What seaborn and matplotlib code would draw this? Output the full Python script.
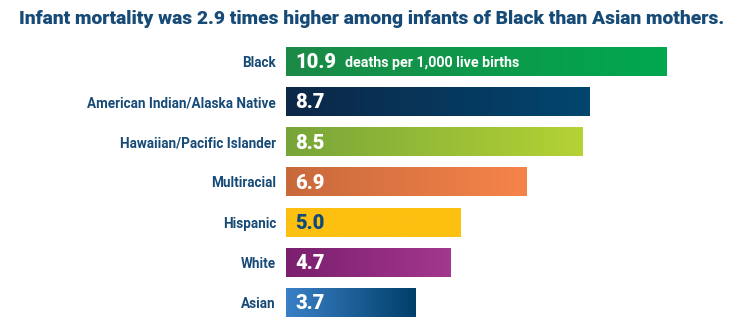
import numpy as np
import pandas as pd
import matplotlib
matplotlib.use("Agg")
import matplotlib.pyplot as plt
import seaborn as sns
from matplotlib.colors import LinearSegmentedColormap

categories = ["Black", "American Indian/Alaska Native", "Hawaiian/Pacific Islander",
              "Multiracial", "Hispanic", "White", "Asian"]
rates = [10.9, 8.7, 8.5, 6.9, 5.0, 4.7, 3.7]
value_labels = ["10.9", "8.7", "8.5", "6.9", "5.0", "4.7", "3.7"]
unit_note = "deaths per 1,000 live births"
title = "Infant mortality was 2.9 times higher among infants of Black than Asian mothers."

# left -> right gradient colours for each bar
grad_left = ["#1b8a46", "#0d2747", "#78a53a", "#c8693c", "#fdc010", "#7a1f6e", "#3a80c6"]
grad_right = ["#00a84f", "#01466f", "#b5d334", "#f6844a", "#fdc010", "#a4378f", "#003f6a"]
value_colors = ["white", "white", "white", "white", "#0f4a78", "white", "white"]

NAVY = "#164a77"

sns.set_theme(style="white")
plt.rcParams["font.family"] = ["Roboto", "DejaVu Sans"]

df = pd.DataFrame({"group": categories, "rate": rates})

fig = plt.figure(figsize=(7.44, 3.34), dpi=100)
ax = fig.add_axes([286 / 744, 0.0341, 454 / 744, 0.842])

sns.barplot(data=df, x="rate", y="group", orient="h", width=0.72,
            color="#cccccc", ax=ax)

# paint each bar with its horizontal gradient
for i, patch in enumerate(ax.patches):
    x0, y0 = patch.get_x(), patch.get_y()
    w, h = patch.get_width(), patch.get_height()
    cmap = LinearSegmentedColormap.from_list(f"g{i}", [grad_left[i], grad_right[i]])
    grad = np.linspace(0, 1, 256).reshape(1, -1)
    ax.imshow(grad, cmap=cmap, aspect="auto", extent=(x0, x0 + w, y0 + h, y0),
              zorder=2, interpolation="bilinear")
    patch.set_visible(False)

ax.set_xlim(0, 13)
ax.set_ylim(6.5, -0.5)

for i, (v, lab) in enumerate(zip(rates, value_labels)):
    ax.text(0.26, i + 0.03, lab, color=value_colors[i], fontsize=14.5,
            fontweight="heavy", va="center", ha="left", zorder=3)
    if i == 0:
        ax.text(1.69, i + 0.03, unit_note, color="white", fontsize=10.3,
                fontweight="bold", va="center", ha="left", zorder=3)

ax.set_xlabel("")
ax.set_ylabel("")
ax.set_xticks([])
ax.tick_params(axis="y", length=0, pad=7.2)
for lbl in ax.get_yticklabels():
    lbl.set_color(NAVY)
    lbl.set_fontweight("bold")
    lbl.set_fontsize(9.75)
sns.despine(ax=ax, left=True, bottom=True)

fig.text(19 / 744, 1 - 19 / 334, title, color=NAVY, fontsize=13.9, fontweight="heavy",
         ha="left", va="center")

fig.savefig("out.png", dpi=100, facecolor="white")
